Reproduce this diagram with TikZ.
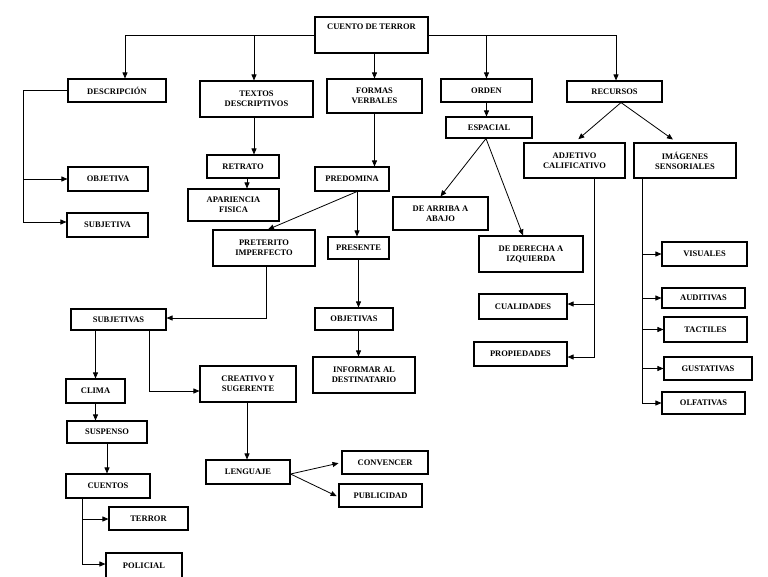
\documentclass[tikz,border=0pt]{standalone}
\usepackage{fontspec}
\setmainfont{Liberation Serif}
\usetikzlibrary{arrows.meta, positioning}

\begin{document}
\begin{tikzpicture}[x=1pt, y=1pt,
        caja/.style={draw, line width=1.1pt, inner sep=1pt, align=center, font=\bfseries\fontsize{8.5}{10}\selectfont},
        flecha/.style={-{Triangle[length=6pt,width=5pt]}, line width=0.8pt}]
        \path[use as bounding box, fill=white] (0,0) rectangle (768,-576);

        \node[caja, minimum width=113pt, minimum height=36pt, text depth=16pt] (cuento) at (371.5,-35) {CUENTO DE TERROR};

        \node[caja, minimum width=98pt, minimum height=23pt] (desc) at (117,-90.5) {DESCRIPCIÓN};
        \node[caja, minimum width=113pt, minimum height=36pt] (textos) at (256.5,-99) {TEXTOS\\DESCRIPTIVOS};
        \node[caja, minimum width=95pt, minimum height=34pt] (formas) at (374.5,-96) {FORMAS\\VERBALES};
        \node[caja, minimum width=91pt, minimum height=23pt] (orden) at (486.5,-90.5) {ORDEN};
        \node[caja, minimum width=95pt, minimum height=21pt] (recursos) at (614.5,-91.5) {RECURSOS};

        \node[caja, minimum width=86pt, minimum height=21pt] (espacial) at (489,-127.5) {ESPACIAL};
        \node[caja, minimum width=101pt, minimum height=35pt] (adjetivo) at (574.5,-160.5) {ADJETIVO\\CALIFICATIVO};
        \node[caja, minimum width=102pt, minimum height=35pt] (imagenes) at (685,-160.5) {IMÁGENES\\SENSORIALES};

        \node[caja, minimum width=80pt, minimum height=24pt] (objetiva) at (108,-179) {OBJETIVA};
        \node[caja, minimum width=81pt, minimum height=24pt] (subjetiva) at (107.5,-225) {SUBJETIVA};
        \node[caja, minimum width=72pt, minimum height=23pt] (retrato) at (243,-166.5) {RETRATO};
        \node[caja, minimum width=91pt, minimum height=32pt] (apariencia) at (233.5,-205) {APARIENCIA\\FISICA};
        \node[caja, minimum width=74pt, minimum height=24pt] (predomina) at (352,-179) {PREDOMINA};
        \node[caja, minimum width=102pt, minimum height=36pt] (preterito) at (264,-248) {PRETERITO\\IMPERFECTO};
        \node[caja, minimum width=61pt, minimum height=22pt] (presente) at (358.5,-248) {PRESENTE};
        \node[caja, minimum width=95pt, minimum height=33pt] (arriba) at (440.5,-213.5) {DE ARRIBA A\\ABAJO};
        \node[caja, minimum width=104pt, minimum height=36pt] (derecha) at (531,-254) {DE DERECHA A\\IZQUIERDA};

        \node[caja, minimum width=88pt, minimum height=25pt] (cualidades) at (523,-306.5) {CUALIDADES};
        \node[caja, minimum width=93pt, minimum height=24pt] (propiedades) at (520.5,-354) {PROPIEDADES};
        \node[caja, minimum width=85pt, minimum height=24pt] (visuales) at (704.5,-254) {VISUALES};
        \node[caja, minimum width=83pt, minimum height=20pt] (auditivas) at (703.5,-298) {AUDITIVAS};
        \node[caja, minimum width=83pt, minimum height=25pt] (tactiles) at (705.5,-329.5) {TACTILES};
        \node[caja, minimum width=88pt, minimum height=23pt] (gustativas) at (708,-368.5) {GUSTATIVAS};
        \node[caja, minimum width=83pt, minimum height=22pt] (olfativas) at (703.5,-403) {OLFATIVAS};

        \node[caja, minimum width=95pt, minimum height=21pt] (subjetivas) at (118.5,-319.5) {SUBJETIVAS};
        \node[caja, minimum width=78pt, minimum height=22pt] (objetivas) at (354,-319) {OBJETIVAS};
        \node[caja, minimum width=102pt, minimum height=36pt] (informar) at (364,-375) {INFORMAR AL\\DESTINATARIO};
        \node[caja, minimum width=59pt, minimum height=24pt] (clima) at (95.5,-391) {CLIMA};
        \node[caja, minimum width=96pt, minimum height=36pt] (creativo) at (248,-384) {CREATIVO Y\\SUGERENTE};
        \node[caja, minimum width=80pt, minimum height=22pt] (suspenso) at (107,-432) {SUSPENSO};
        \node[caja, minimum width=84pt, minimum height=24pt] (cuentos) at (108,-486) {CUENTOS};
        \node[caja, minimum width=79pt, minimum height=23pt] (terror) at (148.5,-518.5) {TERROR};
        \node[caja, minimum width=76pt, minimum height=26pt] (policial) at (144,-566) {POLICIAL};
        \node[caja, minimum width=84pt, minimum height=24pt] (lenguaje) at (248,-472) {LENGUAJE};
        \node[caja, minimum width=86pt, minimum height=23pt] (convencer) at (385,-462.5) {CONVENCER};
        \node[caja, minimum width=83pt, minimum height=23pt] (publicidad) at (380.5,-495.5) {PUBLICIDAD};

        \draw[flecha] (cuento.west) -| ([xshift=8pt]desc.north);
        \draw[flecha] (cuento.east) -| ([xshift=1.5pt]recursos.north);
        \draw[flecha] ([xshift=-2.5pt]textos.north |- cuento.west) -- ([xshift=-2.5pt]textos.north);
        \draw[flecha] (formas.north |- cuento.south) -- (formas.north);
        \draw[flecha] (orden.north |- cuento.east) -- (orden.north);

        \draw[flecha] (orden.south) -- (orden.south |- espacial.north);
        \draw[flecha] ([xshift=-3pt]espacial.south) -- (arriba.north);
        \draw[flecha] ([xshift=-3pt]espacial.south) -- ([xshift=-8pt]derecha.north);

        \draw[flecha, shorten >=5pt] ([xshift=6.5pt]recursos.south) -- (adjetivo.north);
        \draw[flecha, shorten >=5pt] ([xshift=6.5pt]recursos.south) -- ([xshift=-8pt]imagenes.north);
        \draw[flecha] ([xshift=19.5pt]adjetivo.south) |- ([yshift=2.5pt]cualidades.east);
        \draw[flecha] ([xshift=19.5pt]adjetivo.south) |- ([yshift=-3pt]propiedades.east);
        \foreach \n in {visuales, auditivas, tactiles, gustativas, olfativas}
            \draw[flecha] ([xshift=9pt]imagenes.south west) |- (\n.west);

        \draw[flecha] (desc.west) -- ++(-44,0) |- (objetiva.west);
        \draw[flecha] (desc.west) -- ++(-44,0) |- ([yshift=3pt]subjetiva.west);

        \draw[flecha] ([xshift=-2.5pt]textos.south) -- ([xshift=-2.5pt]textos.south |- retrato.north);
        \draw[flecha] ([xshift=4pt]retrato.south) -- ([xshift=4pt]retrato.south |- apariencia.north);

        \draw[flecha] (formas.south) -- (formas.south |- predomina.north);
        \draw[flecha] ([xshift=5pt]predomina.south) -- ([xshift=4pt]preterito.north);
        \draw[flecha] ([xshift=5pt]predomina.south) -- ([xshift=5pt]predomina.south |- presente.north);
        \draw[flecha] (presente.south) -- (presente.south |- objetivas.north);
        \draw[flecha] (presente.south |- objetivas.south) -- (presente.south |- informar.north);

        \draw[flecha] ([xshift=2pt]preterito.south) |- ([yshift=1.5pt]subjetivas.east);
        \draw[flecha] (clima.north |- subjetivas.south) -- (clima.north);
        \draw[flecha] ([xshift=30.5pt]subjetivas.south) |- ([yshift=-7pt]creativo.west);
        \draw[flecha] (clima.south) -- (clima.south |- suspenso.north);
        \draw[flecha] (suspenso.south) -- (suspenso.south |- cuentos.north);
        \draw[flecha] ([xshift=17pt]cuentos.south west) |- ([yshift=-0.5pt]terror.west);
        \draw[flecha] ([xshift=17pt]cuentos.south west) |- ([yshift=2pt]policial.west);

        \draw[flecha] ([xshift=-1pt]creativo.south) -- ([xshift=-1pt]creativo.south |- lenguaje.north);
        \draw[flecha, shorten >=3pt] ([yshift=-2pt]lenguaje.east) -- (convencer.west);
        \draw[flecha, shorten >=2pt] ([yshift=-2pt]lenguaje.east) -- ([yshift=-1.5pt]publicidad.west);
    \end{tikzpicture}
\end{document}
